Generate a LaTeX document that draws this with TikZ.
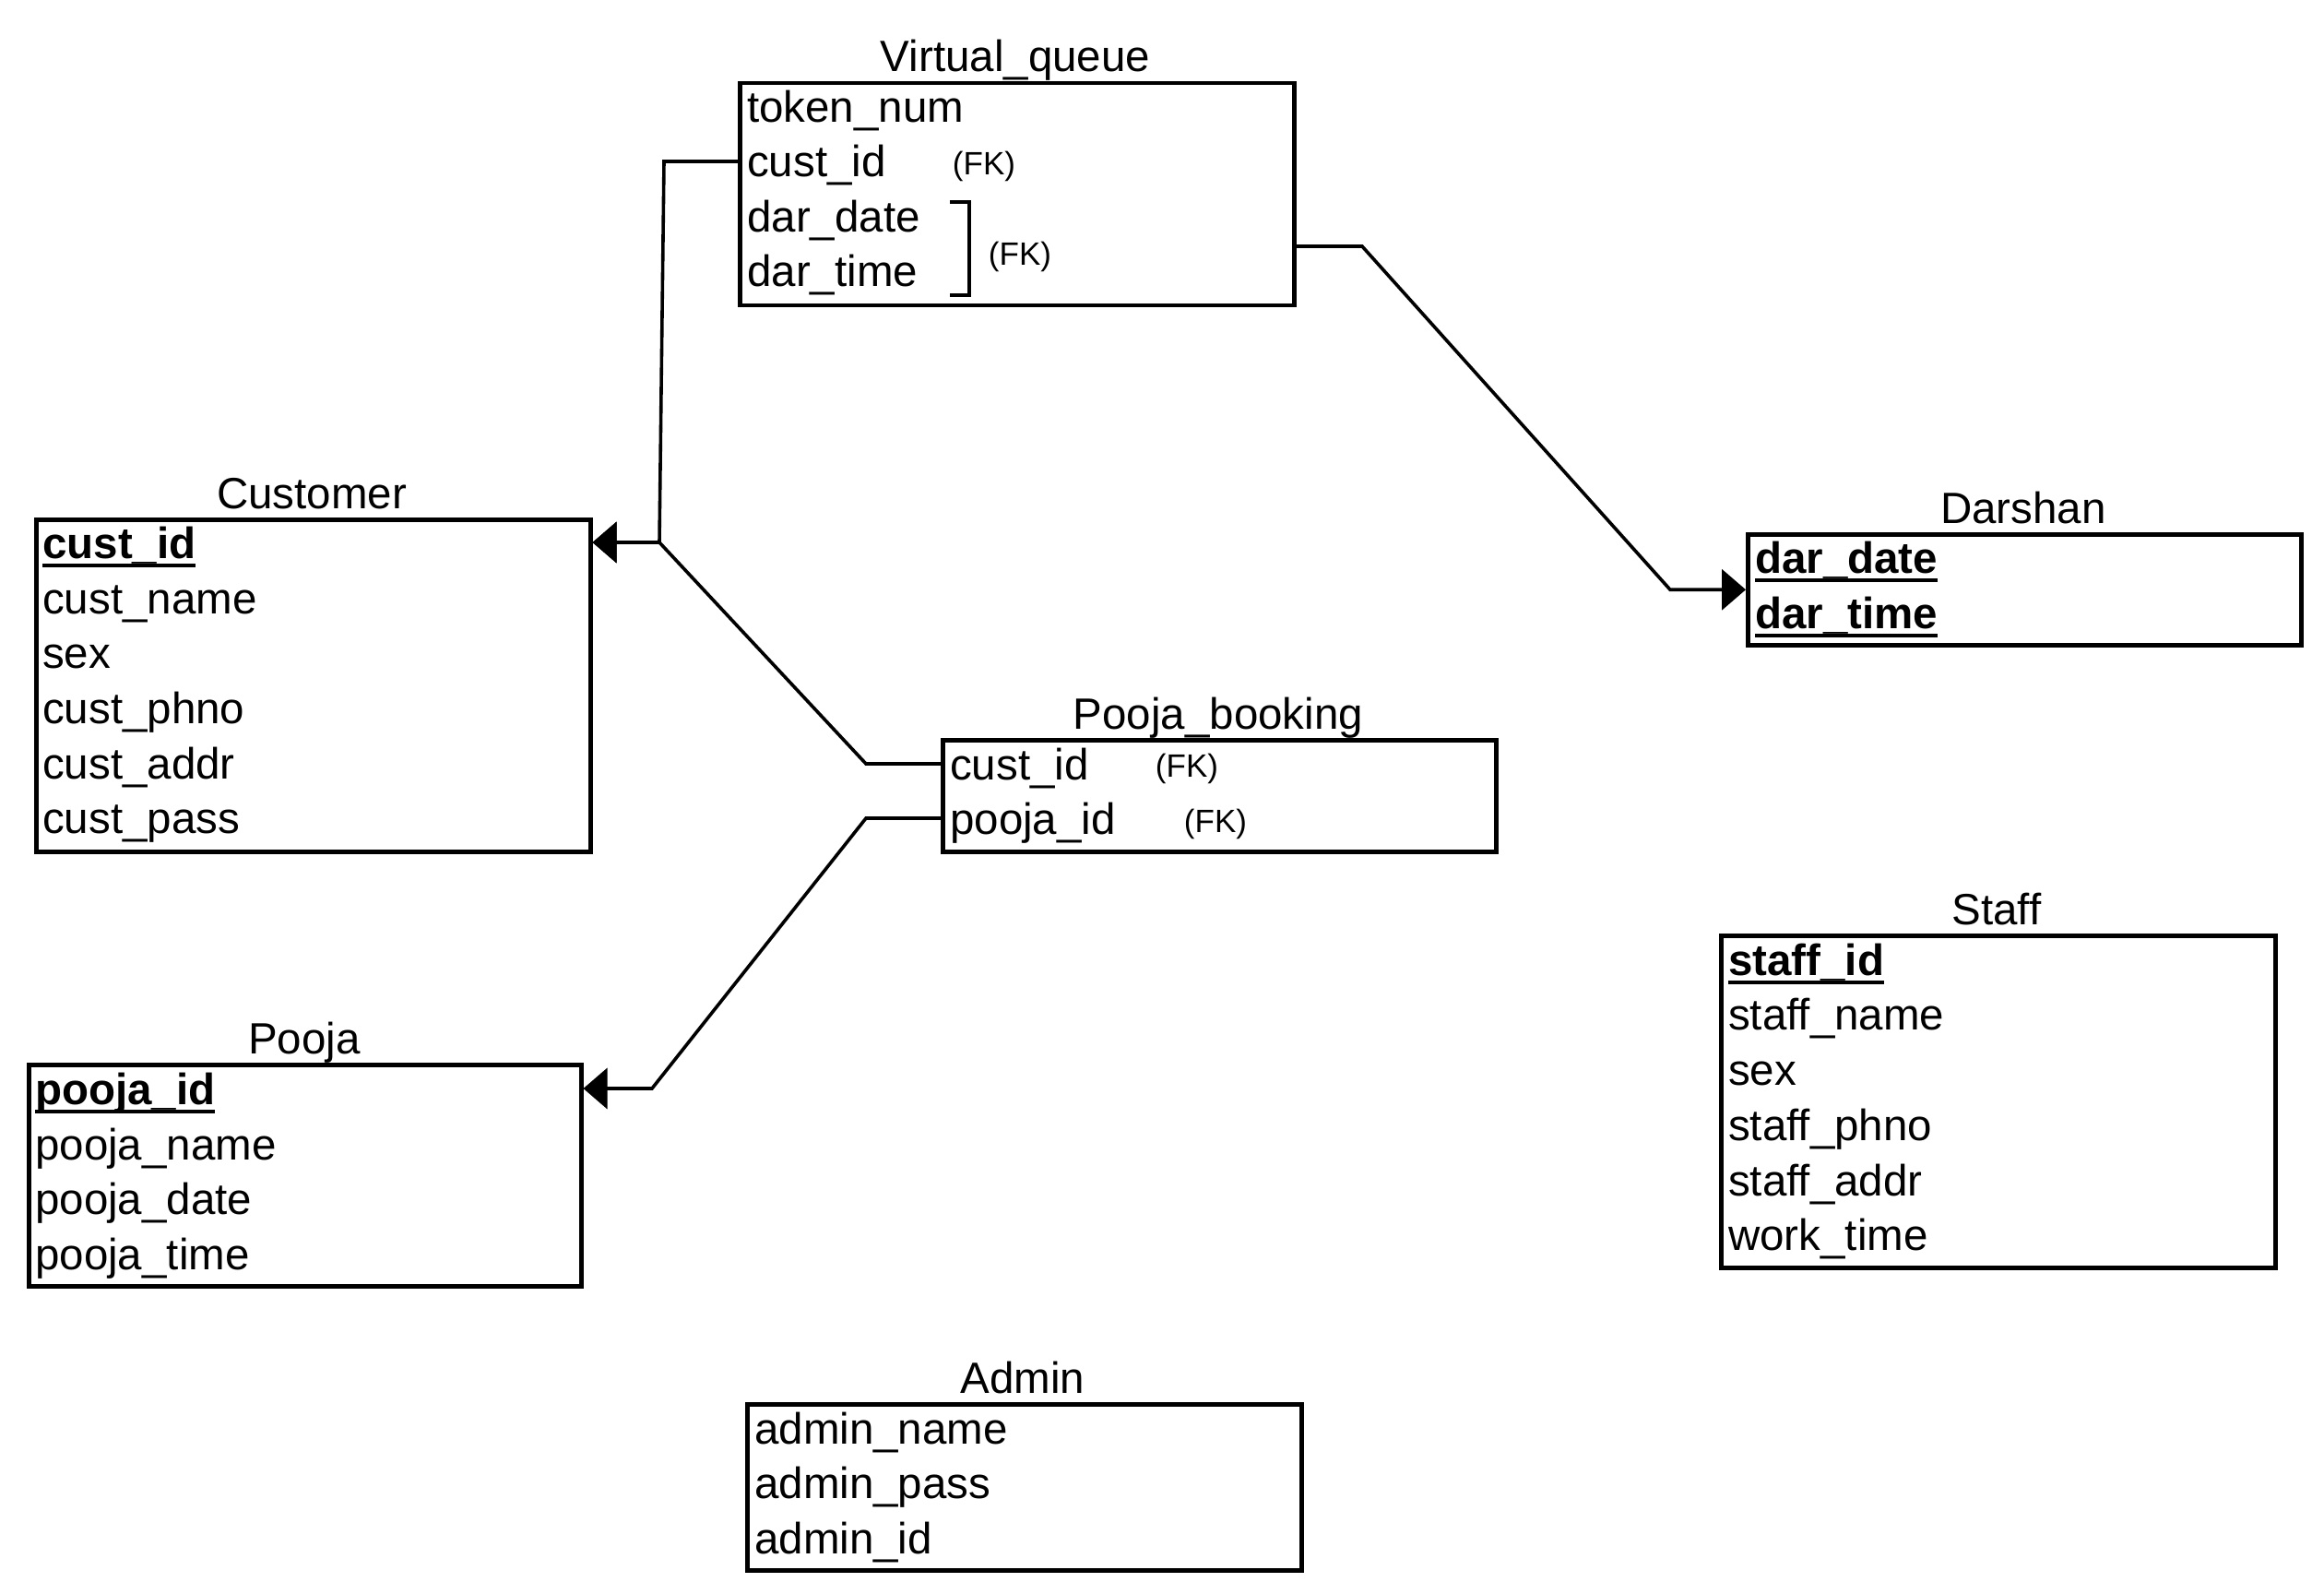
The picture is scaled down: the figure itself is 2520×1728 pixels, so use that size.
\documentclass[tikz,border=0pt]{standalone}
\usepackage{fontspec}
\setmainfont{Liberation Sans}
\usetikzlibrary{arrows.meta}
\newcommand{\pkey}[1]{{\bfseries\setbox0\hbox{#1}\rlap{\rule[-0.2em]{\wd0}{0.075em}}\box0}}
\begin{document}
\begin{tikzpicture}[x=1pt,y=-1pt,
  tbl/.style={draw, line width=4.5pt, anchor=north west, inner sep=0pt},
  ttl/.style={font=\fontsize{47.5}{56}\selectfont, anchor=base, inner sep=0pt},
  fld/.style={font=\fontsize{47.5}{56}\selectfont, anchor=west, inner sep=0pt, text height=34pt, text depth=0pt},
  fk/.style={font=\fontsize{35}{42}\selectfont, anchor=base, inner sep=0pt},
  conn/.style={line width=3.6pt},
  arr/.style={-{Triangle[length=26pt,width=44pt]}}]
\useasboundingbox (0,0) rectangle (2520,1728);

% Virtual_queue
\node[ttl] (t-vq) at (1101,78) {Virtual\_queue};
\node[tbl, minimum width=601pt, minimum height=241pt] (vq) at (800,88) {};
\node[fld] (vq-tok) at (810,116) {token\_num};
\node[fld] (vq-cust) at (810,175) {cust\_id};
\node[fld] (vq-date) at (810,235) {dar\_date};
\node[fld] (vq-time) at (810,294) {dar\_time};
\node[fk] (vq-fk1) at (1067,190) {(FK)};
\node[fk] (vq-fk2) at (1106,288) {(FK)};
\draw[conn] (1030,219) -- (1051,219) -- (1051,320) -- (1030,320);
\coordinate (vq-dar) at (1401,267);

% Customer
\node[ttl] (t-cust) at (338,551) {Customer};
\node[tbl, minimum width=601pt, minimum height=360pt] (cust) at (37,561) {};
\node[fld] (cu-id) at (46,588) {\pkey{cust\_id}};
\node[fld] (cu-name) at (46,648) {cust\_name};
\node[fld] (cu-sex) at (46,707) {sex};
\node[fld] (cu-ph) at (46,767) {cust\_phno};
\node[fld] (cu-addr) at (46,827) {cust\_addr};
\node[fld] (cu-pass) at (46,886) {cust\_pass};

% Pooja
\node[ttl] (t-pooja) at (330,1142) {Pooja};
\node[tbl, minimum width=599pt, minimum height=240pt] (pooja) at (29,1152) {};
\node[fld] (po-id) at (38,1180) {\pkey{pooja\_id}};
\node[fld] (po-name) at (38,1240) {pooja\_name};
\node[fld] (po-date) at (38,1299) {pooja\_date};
\node[fld] (po-time) at (38,1359) {pooja\_time};

% Admin
\node[ttl] (t-admin) at (1109,1510) {Admin};
\node[tbl, minimum width=601pt, minimum height=180pt] (admin) at (808,1520) {};
\node[fld] (ad-name) at (818,1548) {admin\_name};
\node[fld] (ad-pass) at (818,1607) {admin\_pass};
\node[fld] (ad-id) at (818,1667) {admin\_id};

% Pooja_booking
\node[ttl] (t-pb) at (1321,790) {Pooja\_booking};
\node[tbl, minimum width=600pt, minimum height=121pt] (pb) at (1020,800) {};
\node[fld] (pb-cust) at (1030,828) {cust\_id};
\node[fld] (pb-pooja) at (1030,887) {pooja\_id};
\node[fk] (pb-fk1) at (1287,842) {(FK)};
\node[fk] (pb-fk2) at (1318,902) {(FK)};

% Darshan
\node[ttl] (t-dar) at (2194,567) {Darshan};
\node[tbl, minimum width=600pt, minimum height=120pt] (dar) at (1893,577) {};
\node[fld] (da-date) at (1903,604) {\pkey{dar\_date}};
\node[fld] (da-time) at (1903,664) {\pkey{dar\_time}};

% Staff
\node[ttl] (t-staff) at (2165,1002) {Staff};
\node[tbl, minimum width=601pt, minimum height=360pt] (staff) at (1864,1012) {};
\node[fld] (st-id) at (1874,1040) {\pkey{staff\_id}};
\node[fld] (st-name) at (1874,1099) {staff\_name};
\node[fld] (st-sex) at (1874,1159) {sex};
\node[fld] (st-ph) at (1874,1219) {staff\_phno};
\node[fld] (st-addr) at (1874,1279) {staff\_addr};
\node[fld] (st-work) at (1874,1338) {work\_time};

% Connectors
\coordinate (bend-dar) at (1811,0);
\draw[conn,arr] (vq.west |- vq-cust) -- (720,175) -- (715,588) -- (cust.east |- cu-id);
\draw[conn,arr] (pb.west |- pb-cust) -- (939,828) -- (715,588) -- (cust.east |- cu-id);
\draw[conn,arr] (pb.west |- pb-pooja) -- (939,887) -- (707,1180) -- (pooja.east |- po-id);
\draw[conn,arr] (vq-dar) -- (1477,267) -- (bend-dar |- dar.west) -- (dar.west);
\end{tikzpicture}
\end{document}
